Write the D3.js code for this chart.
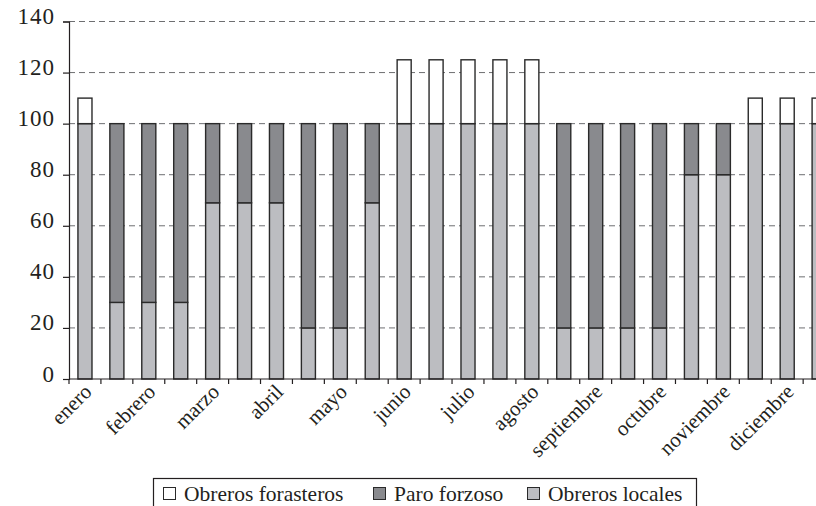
<!DOCTYPE html>
<html>
<head>
<meta charset="utf-8">
<script src="https://cdn.jsdelivr.net/npm/d3@7"></script>
<style>
  html, body { margin: 0; padding: 0; background: #fff; overflow: hidden; }
  svg { display: block; }
  text { font-family: "Liberation Serif", "DejaVu Serif", serif; fill: #231f20; }
</style>
</head>
<body>
<svg id="chart" width="816" height="506"></svg>
<script>
// ---- data ----
const months = ["enero", "febrero", "marzo", "abril", "mayo", "junio",
                "julio", "agosto", "septiembre", "octubre", "noviembre", "diciembre"];
const halves = ["I", "II"];
const obrerosLocales     = [100, 30, 30, 30, 69, 69, 69, 20, 20, 69, 100, 100, 100, 100, 100, 20, 20, 20, 20, 80, 80, 100, 100, 100];
const paroForzoso        = [0, 70, 70, 70, 31, 31, 31, 80, 80, 31, 0, 0, 0, 0, 0, 80, 80, 80, 80, 20, 20, 0, 0, 0];
const obrerosForasteros  = [10, 0, 0, 0, 0, 0, 0, 0, 0, 0, 25, 25, 25, 25, 25, 0, 0, 0, 0, 0, 0, 10, 10, 10];
const yTicks = [0, 20, 40, 60, 80, 100, 120, 140];
const seriesNames = ["Obreros locales", "Paro forzoso", "Obreros forasteros"];
const legendOrder = ["Obreros forasteros", "Paro forzoso", "Obreros locales"];

// ---- build table ----
const categories = months.flatMap(m => halves.map(h => m + " " + h));
const tickLabel = c => c.endsWith(" I") ? c.slice(0, -2) : "";
const table = categories.map((c, i) => ({
  cat: c,
  "Obreros locales": obrerosLocales[i],
  "Paro forzoso": paroForzoso[i],
  "Obreros forasteros": obrerosForasteros[i]
}));

const colors = {
  "Obreros locales": "#bcbdc1",
  "Paro forzoso": "#898a8e",
  "Obreros forasteros": "#ffffff"
};

// ---- layout ----
const svg = d3.select("#chart");
const plotLeft = 69, plotBottom = 379, plotTop = 21.5;
const step = 31.92;
const x = d3.scaleBand()
  .domain(categories)
  .range([plotLeft, plotLeft + step * categories.length])
  .paddingInner(0.56)
  .paddingOuter(0.28);
const y = d3.scaleLinear().domain([0, 140]).range([plotBottom, plotTop]);

// gridlines
svg.append("g")
  .selectAll("line")
  .data(yTicks.filter(d => d > 0))
  .join("line")
  .attr("x1", plotLeft).attr("x2", 816)
  .attr("y1", d => y(d)).attr("y2", d => y(d))
  .attr("stroke", "#6d6e71")
  .attr("stroke-width", 1)
  .attr("stroke-dasharray", "6,4");

// bars
const stack = d3.stack().keys(seriesNames);
const layers = stack(table);
svg.append("g")
  .selectAll("g")
  .data(layers)
  .join("g")
  .attr("fill", d => colors[d.key])
  .selectAll("rect")
  .data(d => d.filter(p => p[1] - p[0] > 0))
  .join("rect")
  .attr("x", d => x(d.data.cat))
  .attr("width", x.bandwidth())
  .attr("y", d => y(d[1]))
  .attr("height", d => y(d[0]) - y(d[1]))
  .attr("stroke", "#2a2a2a")
  .attr("stroke-width", 1.4);

// y axis
const yAxis = d3.axisLeft(y).tickValues(yTicks).tickSize(6).tickPadding(0)
  .tickFormat(d3.format("d"));
const gy = svg.append("g").attr("transform", `translate(${plotLeft},0)`).call(yAxis);
gy.attr("font-family", null).attr("font-size", null);
gy.select(".domain").attr("stroke", "#231f20").attr("stroke-width", 1.2);
gy.selectAll(".tick line").attr("stroke", "#231f20").attr("stroke-width", 1.2);
gy.selectAll(".tick text")
  .attr("x", -14)
  .attr("dy", null)
  .attr("y", 2)
  .style("font-size", "23px")
  .style("font-family", "'Liberation Serif', serif")
  .style("letter-spacing", "1px")
  .attr("fill", "#231f20");

// x axis line and ticks at band boundaries
const boundaries = d3.range(categories.length + 1).map(i => x.range()[0] + i * x.step());
svg.append("line")
  .attr("x1", plotLeft).attr("x2", 816)
  .attr("y1", plotBottom).attr("y2", plotBottom)
  .attr("stroke", "#231f20").attr("stroke-width", 1.2);
svg.append("g")
  .selectAll("line")
  .data(boundaries)
  .join("line")
  .attr("x1", d => d).attr("x2", d => d)
  .attr("y1", plotBottom).attr("y2", plotBottom + 5)
  .attr("stroke", "#231f20").attr("stroke-width", 1.2);

// x labels
svg.append("g")
  .selectAll("text")
  .data(categories.filter(c => tickLabel(c) !== ""))
  .join("text")
  .attr("transform", c => `translate(${x(c) + x.bandwidth() / 2 + 8},${plotBottom + 14}) rotate(-45)`)
  .attr("text-anchor", "end")
  .style("font-size", "21px")
  .text(c => tickLabel(c));

// legend
const lg = svg.append("g");
lg.append("rect")
  .attr("x", 153.5).attr("y", 478.5)
  .attr("width", 543).attr("height", 40)
  .attr("fill", "#fff")
  .attr("stroke", "#231f20").attr("stroke-width", 1.2);
const legendX = [163, 373, 527];
legendOrder.forEach((name, i) => {
  const g = lg.append("g").attr("transform", `translate(${legendX[i]},0)`);
  g.append("rect")
    .attr("x", 0.5).attr("y", 487.5)
    .attr("width", 12).attr("height", 12)
    .attr("fill", colors[name])
    .attr("stroke", "#2a2a2a").attr("stroke-width", 1);
  g.append("text")
    .attr("x", 21).attr("y", 501)
    .style("font-size", "21.5px")
    .text(name);
});
</script>
</body>
</html>
